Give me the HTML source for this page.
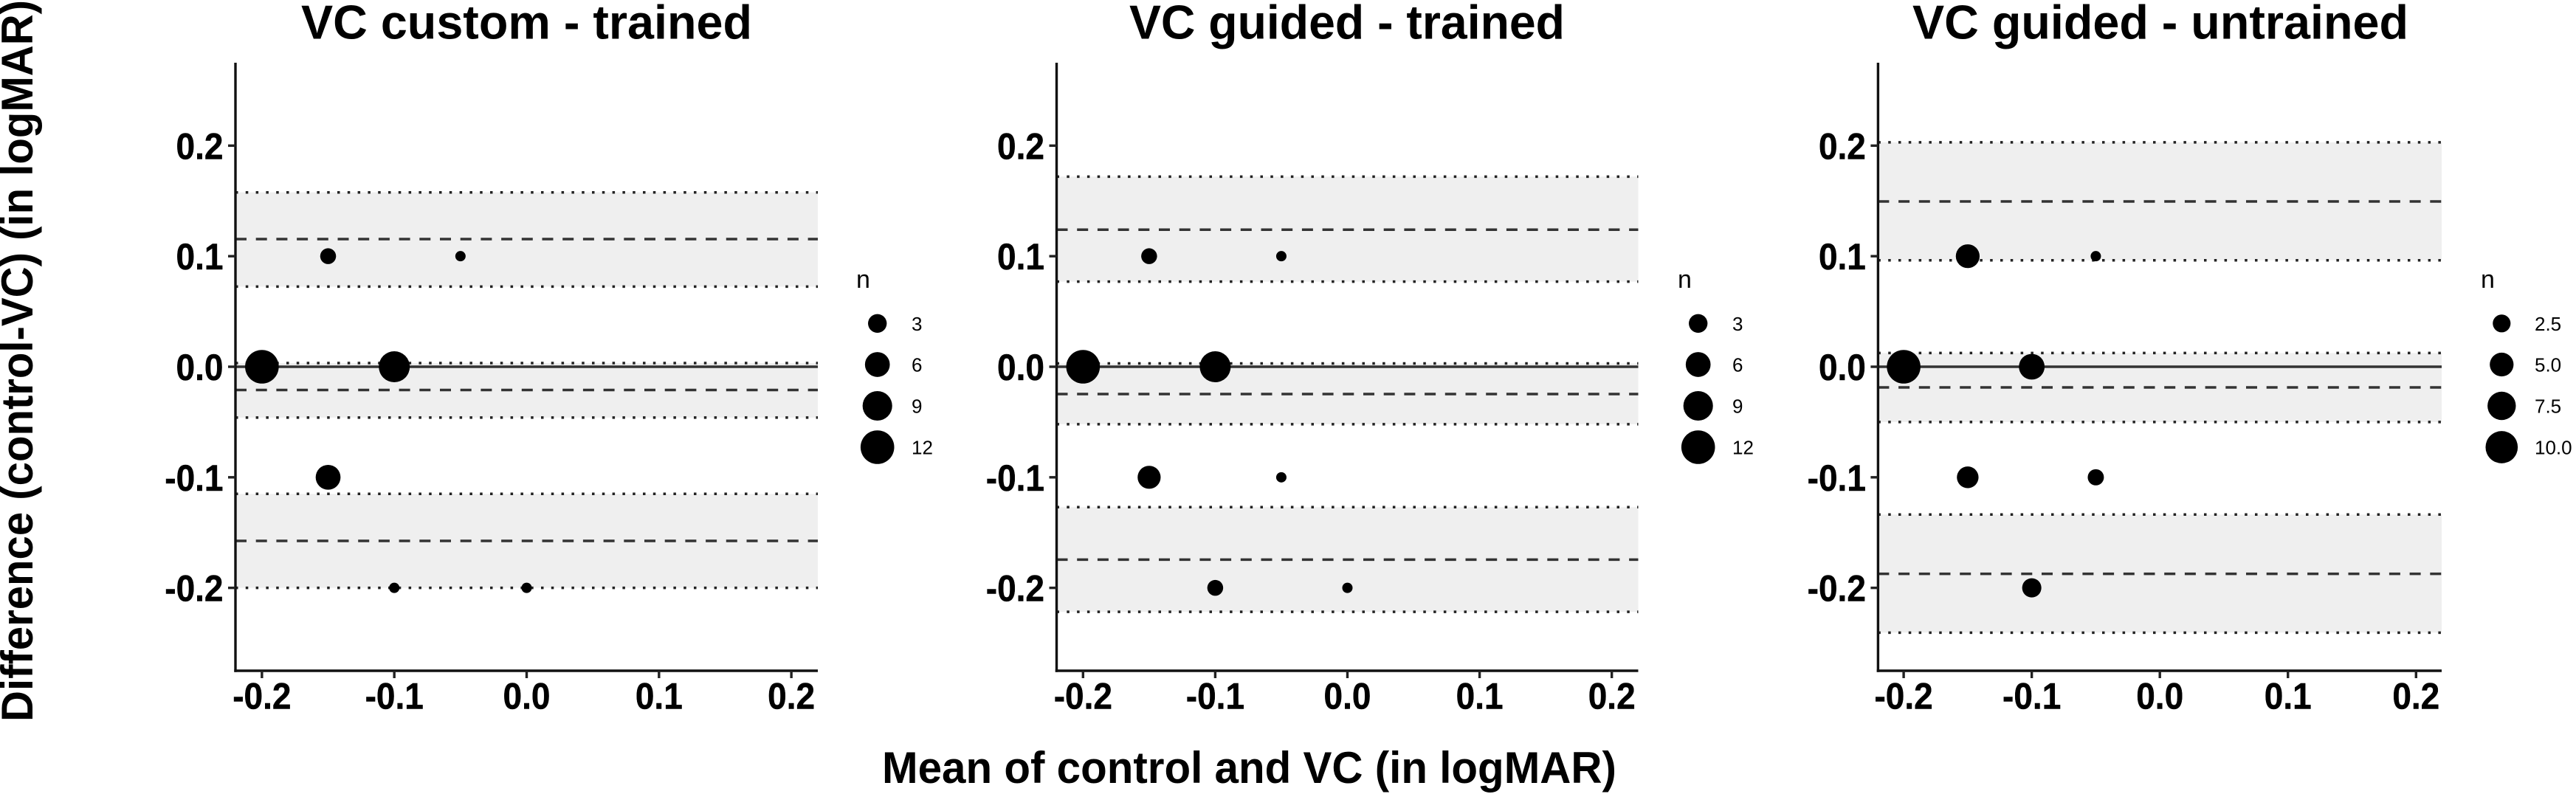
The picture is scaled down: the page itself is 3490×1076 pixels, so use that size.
<!DOCTYPE html>
<html lang="en">
<head>
<meta charset="utf-8">
<title>Bland-Altman plots</title>
<style>
html,body{margin:0;padding:0;background:#fff;width:3490px;height:1076px;overflow:hidden}
svg{display:block}
text{font-family:"Liberation Sans",Arial,sans-serif;fill:#000}
</style>
</head>
<body>
<svg id="chart" xmlns="http://www.w3.org/2000/svg" width="3490" height="1076" viewBox="0 0 3490 1076">
  <rect x="0" y="0" width="3490" height="1076" fill="#ffffff"/>
  <text x="408" y="52.7" font-size="65" font-weight="700" textLength="611" lengthAdjust="spacingAndGlyphs">VC custom - trained</text>
  <text x="1530" y="52.7" font-size="65" font-weight="700" textLength="590" lengthAdjust="spacingAndGlyphs">VC guided - trained</text>
  <text x="2591" y="52.7" font-size="65" font-weight="700" textLength="672" lengthAdjust="spacingAndGlyphs">VC guided - untrained</text>
  <text transform="translate(44,978) rotate(-90)" x="0" y="0" font-size="60" font-weight="700" textLength="978" lengthAdjust="spacingAndGlyphs">Difference (control-VC) (in logMAR)</text>
  <text x="1195" y="1061" font-size="60" font-weight="700" textLength="995" lengthAdjust="spacingAndGlyphs">Mean of control and VC (in logMAR)</text>
</svg>
<script>
// Shared axis data
const xTickValues = [-0.2, -0.1, 0.0, 0.1, 0.2];
const yTickValues = [-0.2, -0.1, 0.0, 0.1, 0.2];
const xTickLabels = ['-0.2', '-0.1', '0.0', '0.1', '0.2'];
const yTickLabels = ['-0.2', '-0.1', '0.0', '0.1', '0.2'];
const xDomain = [-0.22, 0.22];
const yDomain = [-0.275, 0.275];

// Panel 1: VC custom - trained
const customMeans = [-0.2, -0.1, -0.15, -0.05, -0.15, -0.1, 0.0];
const customDiffs = [0.0, 0.0, 0.1, 0.1, -0.1, -0.2, -0.2];
const customCounts = [12, 10, 2, 1, 6, 1, 1];
const customUpperBand = [0.0725, 0.1155, 0.1577];
const customMeanBand = [-0.046, -0.021, 0.0033];
const customLowerBand = [-0.2, -0.1575, -0.115];
const customLegendValues = [3, 6, 9, 12];
const customLegendLabels = ['3', '6', '9', '12'];

// Panel 2: VC guided - trained
const guidedMeans = [-0.2, -0.1, -0.15, -0.05, -0.15, -0.05, -0.1, 0.0];
const guidedDiffs = [0.0, 0.0, 0.1, 0.1, -0.1, -0.1, -0.2, -0.2];
const guidedCounts = [12, 10, 2, 1, 5, 1, 2, 1];
const guidedUpperBand = [0.077, 0.124, 0.172];
const guidedMeanBand = [-0.052, -0.0247, 0.003];
const guidedLowerBand = [-0.2217, -0.1745, -0.127];
const guidedLegendValues = [3, 6, 9, 12];
const guidedLegendLabels = ['3', '6', '9', '12'];

// Panel 3: VC guided - untrained
const untrainedMeans = [-0.2, -0.1, -0.15, -0.05, -0.15, -0.05, -0.1];
const untrainedDiffs = [0.0, 0.0, 0.1, 0.1, -0.1, -0.1, -0.2];
const untrainedCounts = [11, 6, 5, 1, 4, 2, 3];
const untrainedUpperBand = [0.0963, 0.1495, 0.203];
const untrainedMeanBand = [-0.05, -0.0187, 0.0124];
const untrainedLowerBand = [-0.2405, -0.1873, -0.1337];
const untrainedLegendValues = [2.5, 5, 7.5, 10];
const untrainedLegendLabels = ['2.5', '5.0', '7.5', '10.0'];

const svg = document.getElementById('chart');
const NS = 'http://www.w3.org/2000/svg';
const plotTop = 85;
const plotBottom = 909;
const legendRows = [438.3, 494, 550, 606];

function mk(tag, attrs, parent) {
  const el = document.createElementNS(NS, tag);
  for (const k in attrs) el.setAttribute(k, attrs[k]);
  (parent || svg).appendChild(el);
  return el;
}
function yScale(v) {
  return plotBottom + (v - yDomain[0]) / (yDomain[1] - yDomain[0]) * (plotTop - plotBottom);
}
function makeXScale(left, right) {
  return function (v) { return left + (v - xDomain[0]) / (xDomain[1] - xDomain[0]) * (right - left); };
}
function radiusScale(n, maxN) {
  return 7 + 15.8 * Math.pow((n - 1) / (maxN - 1), 0.6);
}

function drawBand(g, left, right, band, key) {
  const rect = mk('rect', {x: left, y: yScale(band[2]), width: right - left, height: yScale(band[0]) - yScale(band[2]), fill: '#efefef'}, g);
  
  
  [band[0], band[2]].forEach(function (v) {
    const dot = mk('line', {x1: left, x2: right, y1: yScale(v), y2: yScale(v), stroke: '#222', 'stroke-width': 3.5, 'stroke-dasharray': '3.5 10.3'}, g);
    
    
  });
  const dash = mk('line', {x1: left, x2: right, y1: yScale(band[1]), y2: yScale(band[1]), stroke: '#333', 'stroke-width': 3.5, 'stroke-dasharray': '15 12.7'}, g);
  
  
}

function drawPanel(opts) {
  const g = mk('g', {});
  
  
  const xScale = makeXScale(opts.left, opts.right);
  const maxN = Math.max.apply(null, opts.counts);

  drawBand(g, opts.left, opts.right, opts.upper, 'upper-limit');
  drawBand(g, opts.left, opts.right, opts.meanBand, 'mean-difference');
  drawBand(g, opts.left, opts.right, opts.lower, 'lower-limit');

  const zero = mk('line', {x1: opts.left, x2: opts.right, y1: yScale(0), y2: yScale(0), stroke: '#333', 'stroke-width': 3.4}, g);
  
  

  opts.means.forEach(function (m, i) {
    const c = mk('circle', {cx: xScale(m), cy: yScale(opts.diffs[i]), r: radiusScale(opts.counts[i], maxN), fill: '#000'}, g);
    
    
  });

  const yAxis = mk('line', {x1: opts.left, x2: opts.left, y1: plotTop, y2: plotBottom + 1.7, stroke: '#111', 'stroke-width': 3.4}, g);
  
  
  const xAxis = mk('line', {x1: opts.left - 1.7, x2: opts.right, y1: plotBottom, y2: plotBottom, stroke: '#111', 'stroke-width': 3.4}, g);
  
  

  xTickValues.forEach(function (v, i) {
    const px = xScale(v);
    const t = mk('line', {x1: px, x2: px, y1: plotBottom, y2: plotBottom + 10, stroke: '#222', 'stroke-width': 3.4}, g);
    
    
    const l = mk('text', {transform: 'translate(' + px + ',960.7) scale(0.92,1)', 'font-size': 50, 'font-weight': 700, 'text-anchor': 'middle', stroke: '#000', 'stroke-width': 0.5}, g);
    l.textContent = xTickLabels[i];
    
    
  });
  yTickValues.forEach(function (v, i) {
    const py = yScale(v);
    const t = mk('line', {x1: opts.left - 10, x2: opts.left, y1: py, y2: py, stroke: '#222', 'stroke-width': 3.4}, g);
    
    
    const l = mk('text', {transform: 'translate(' + (opts.left - 16.5) + ',' + (py + 18) + ') scale(0.92,1)', 'font-size': 50, 'font-weight': 700, 'text-anchor': 'end', stroke: '#000', 'stroke-width': 0.5}, g);
    l.textContent = yTickLabels[i];
    
    
  });

  const nTitle = mk('text', {x: opts.legendTitleX, y: 390, 'font-size': 34}, g);
  nTitle.textContent = 'n';
  
  
  opts.legendValues.forEach(function (v, i) {
    const c = mk('circle', {cx: opts.legendX, cy: legendRows[i], r: radiusScale(v, maxN), fill: '#000'}, g);
    
    
    const l = mk('text', {x: opts.legendLabelX, y: legendRows[i] + 9.5, 'font-size': 26, fill: '#111'}, g);
    l.textContent = opts.legendLabels[i];
    
    
  });
}

drawPanel({key: 'custom-trained', left: 319, right: 1108,
  means: customMeans, diffs: customDiffs, counts: customCounts,
  upper: customUpperBand, meanBand: customMeanBand, lower: customLowerBand,
  legendValues: customLegendValues, legendLabels: customLegendLabels,
  legendX: 1188.7, legendLabelX: 1235, legendTitleX: 1160});
drawPanel({key: 'guided-trained', left: 1431.5, right: 2219.5,
  means: guidedMeans, diffs: guidedDiffs, counts: guidedCounts,
  upper: guidedUpperBand, meanBand: guidedMeanBand, lower: guidedLowerBand,
  legendValues: guidedLegendValues, legendLabels: guidedLegendLabels,
  legendX: 2300.7, legendLabelX: 2347, legendTitleX: 2273});
drawPanel({key: 'guided-untrained', left: 2544.4, right: 3308,
  means: untrainedMeans, diffs: untrainedDiffs, counts: untrainedCounts,
  upper: untrainedUpperBand, meanBand: untrainedMeanBand, lower: untrainedLowerBand,
  legendValues: untrainedLegendValues, legendLabels: untrainedLegendLabels,
  legendX: 3389.3, legendLabelX: 3434, legendTitleX: 3361});
</script>
</body>
</html>
